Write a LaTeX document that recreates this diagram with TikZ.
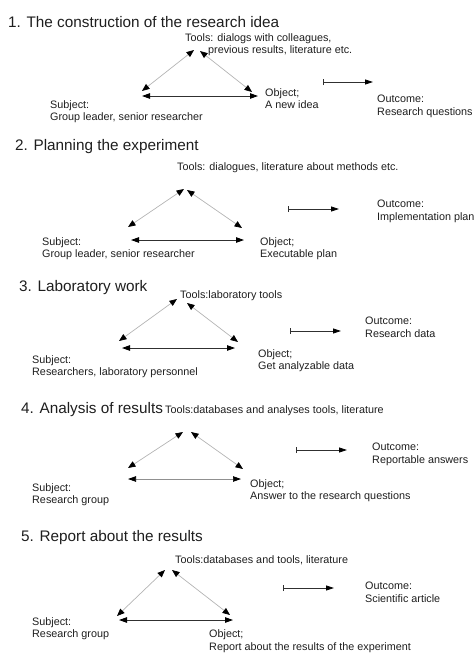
\documentclass[tikz,border=0pt]{standalone}
\usepackage{fontspec}
\setmainfont{Liberation Sans}
\usetikzlibrary{arrows.meta}
\definecolor{ink}{HTML}{1E1E1E}
\definecolor{diag}{HTML}{B4B4B4}
\definecolor{hline}{HTML}{303030}
\tikzset{
  ttl/.style={anchor=west, inner sep=0pt, text=ink, font=\fontsize{15.3}{18}\selectfont},
  lbl/.style={anchor=north west, inner sep=0pt, align=left, text=ink, font=\fontsize{10.8}{12.5}\selectfont},
  lbl1/.style={anchor=west, inner sep=0pt, text=ink, font=\fontsize{10.8}{12.5}\selectfont},
  dlink/.style={draw=diag, line width=0.7pt, {Triangle[length=7.5pt,width=6pt,color=black]}-{Triangle[length=7.5pt,width=6pt,color=black]}},
  hlink/.style={draw=hline, line width=0.9pt, {Triangle[length=8pt,width=5.5pt,color=black]}-{Triangle[length=8pt,width=5.5pt,color=black]}},
  hlinkg/.style={draw=diag!80!black, line width=0.7pt, {Triangle[length=8pt,width=5.5pt,color=black]}-{Triangle[length=8pt,width=5.5pt,color=black]}},
  olink/.style={draw=hline, line width=0.8pt, {Bar[width=6pt,color=hline]}-{Triangle[length=8pt,width=5pt,color=black]}}
}
\begin{document}
\begin{tikzpicture}[x=1pt,y=-1pt]
\useasboundingbox (0,0) rectangle (475,653);
% ---------- Panel 1
\node[ttl] (t1) at (8,22) {1. The construction of the research idea};
\node[lbl] (tools1) at (185,33) {Tools: dialogs with colleagues,\\\hspace*{23pt}previous results, literature etc.};
\node[lbl] (obj1) at (265,88) {Object;\\A new idea};
\node[lbl] (sub1) at (50,100) {Subject:\\Group leader, senior researcher};
\node[lbl] (out1) at (377,95) {Outcome:\\Research questions};
\coordinate (a1l) at (194,50); \coordinate (b1l) at (142,91);
\coordinate (a1r) at (200,51); \coordinate (b1r) at (252,92);
\coordinate (h1l) at (142,96); \coordinate (h1r) at (258,96);
\coordinate (o1s) at (323,82); \coordinate (o1e) at (373,82);
\draw[dlink] (a1l) -- (b1l);
\draw[dlink] (a1r) -- (b1r);
\draw[hlink] (h1l) -- (h1r);
\draw[olink] (o1s) -- (o1e);
% ---------- Panel 2
\node[ttl] (t2) at (15,147) {2. Planning the experiment};
\node[lbl1] (tools2) at (177,168) {Tools: dialogues, literature about methods etc.};
\node[lbl] (sub2) at (42,237) {Subject:\\Group leader, senior researcher};
\node[lbl] (obj2) at (260,237) {Object;\\Executable plan};
\node[lbl] (out2) at (377,200) {Outcome:\\Implementation plan};
\coordinate (a2l) at (184,189); \coordinate (b2l) at (128,227);
\coordinate (a2r) at (187,190); \coordinate (b2r) at (242,228);
\coordinate (h2l) at (131,240); \coordinate (h2r) at (244,240);
\coordinate (o2s) at (288,209); \coordinate (o2e) at (339,209);
\draw[dlink] (a2l) -- (b2l);
\draw[dlink] (a2r) -- (b2r);
\draw[hlink] (h2l) -- (h2r);
\draw[olink] (o2s) -- (o2e);
% ---------- Panel 3
\node[ttl] (t3) at (19,288) {3. Laboratory work};
\node[lbl1] (tools3) at (180,296) {Tools:laboratory tools};
\node[lbl] (sub3) at (32,355) {Subject:\\Researchers, laboratory personnel};
\node[lbl] (obj3) at (258,349) {Object;\\Get analyzable data};
\node[lbl] (out3) at (365,317) {Outcome:\\Research data};
\coordinate (a3l) at (177,299); \coordinate (b3l) at (119,341);
\coordinate (a3r) at (187,303); \coordinate (b3r) at (238,342);
\coordinate (h3l) at (122,348); \coordinate (h3r) at (235,348);
\coordinate (o3s) at (290,331); \coordinate (o3e) at (341,331);
\draw[dlink] (a3l) -- (b3l);
\draw[dlink] (a3r) -- (b3r);
\draw[hlink] (h3l) -- (h3r);
\draw[olink] (o3s) -- (o3e);
% ---------- Panel 4
\node[ttl] (t4) at (21,410) {4. Analysis of results};
\node[lbl1] (tools4) at (165,411) {Tools:databases and analyses tools, literature};
\node[lbl] (sub4) at (32,483) {Subject:\\Research group};
\node[lbl] (obj4) at (250,479) {Object;\\Answer to the research questions};
\node[lbl] (out4) at (372,443) {Outcome:\\Reportable answers};
\coordinate (a4l) at (183,432); \coordinate (b4l) at (128,468);
\coordinate (a4r) at (191,432); \coordinate (b4r) at (243,469);
\coordinate (h4l) at (128,479); \coordinate (h4r) at (241,479);
\coordinate (o4s) at (296,450); \coordinate (o4e) at (347,450);
\draw[dlink] (a4l) -- (b4l);
\draw[dlink] (a4r) -- (b4r);
\draw[hlinkg] (h4l) -- (h4r);
\draw[olink] (o4s) -- (o4e);
% ---------- Panel 5
\node[ttl] (t5) at (21,538) {5. Report about the results};
\node[lbl1] (tools5) at (175,560) {Tools:databases and tools, literature};
\node[lbl] (sub5) at (32,617) {Subject:\\Research group};
\node[lbl] (obj5) at (209,629.5) {Object;\\Report about the results of the experiment};
\node[lbl] (out5) at (365,582) {Outcome:\\Scientific article};
\coordinate (a5l) at (165,570); \coordinate (b5l) at (117,616);
\coordinate (a5r) at (172,570); \coordinate (b5r) at (230,615);
\coordinate (h5l) at (119,620); \coordinate (h5r) at (233,620);
\coordinate (o5s) at (283,588); \coordinate (o5e) at (334,588);
\draw[dlink] (a5l) -- (b5l);
\draw[dlink] (a5r) -- (b5r);
\draw[hlink] (h5l) -- (h5r);
\draw[olink] (o5s) -- (o5e);
\end{tikzpicture}
\end{document}
